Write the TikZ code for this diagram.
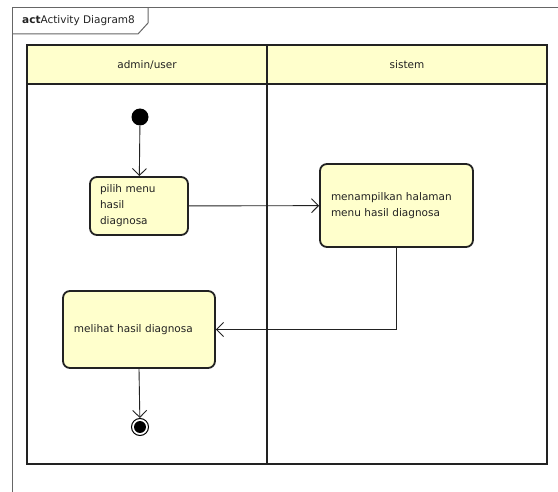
\documentclass[tikz,border=0pt]{standalone}
\usepackage{fontspec}
\setsansfont{DejaVu Sans}
\usepackage{tikz}
\usetikzlibrary{arrows.meta,calc,positioning}
\definecolor{Frame}{HTML}{666666}
\definecolor{Ink}{HTML}{222222}
\definecolor{Note}{HTML}{FFFFCC}
\tikzset{lane/.style={draw=Ink,line width=2pt},head/.style={lane,fill=Note},action/.style={rounded corners=7pt,draw=Ink,fill=Note,line width=1.8pt,align=left,font=\sffamily\fontsize{10.5}{16}\selectfont,text=Ink},initial/.style={circle,fill=black,minimum size=17pt,inner sep=0pt},final/.style={circle,draw=black,line width=1pt,fill=white,minimum size=17pt,inner sep=0pt,path picture={\fill[black] (path picture bounding box.center) circle (6pt);}},flow/.style={-{Straight Barb[length=7pt,width=14pt]},line width=.9pt,draw=Ink}}
\begin{document}
\begin{tikzpicture}[x=1pt,y=-1pt]
      \useasboundingbox (0,0) rectangle (558,492);
      % frame and tab
      \draw[Frame,line width=1pt](12,492)--(12,8)--(558,8);
      \draw[Frame,line width=1pt](12,34)--(138,34)--(148,23)--(148,8);
      \node[anchor=west,font=\sffamily\fontsize{10.5}{12}\selectfont,text=Ink,inner sep=0pt](title) at (22,21){\textbf{act}Activity Diagram8};
      % swimlanes
      \filldraw[head](27,45) rectangle (547,84);
      \draw[lane](27,45) rectangle (547,464);
      \draw[lane](267,45)--(267,464);
      \node[font=\sffamily\fontsize{10.5}{12}\selectfont,text=Ink](laneA) at (147,65){admin/user};
      \node[font=\sffamily\fontsize{10.5}{12}\selectfont,text=Ink](laneB) at (407,65){sistem};
      % actions
      \node[initial](start) at (140,117){};
      \node[action,text width=78pt,inner xsep=10pt,minimum height=58pt](pilih) at (139,206){pilih menu\\hasil\\diagnosa};
      \node[action,text width=131pt,inner xsep=11pt,minimum height=83pt](tampil) at (396.5,205.5){menampilkan halaman\\menu hasil diagnosa};
      \node[action,text width=130pt,inner xsep=11pt,minimum height=77pt](lihat) at (139,329.5){melihat hasil diagnosa};
      \node[final](stop) at (140,427){};
      \draw[flow](start)--(pilih);
      \draw[flow](pilih)--(tampil);
      \draw[flow](tampil.south)|-(lihat.east);
      \draw[flow](lihat.south)--(stop);
    \end{tikzpicture}
\end{document}
